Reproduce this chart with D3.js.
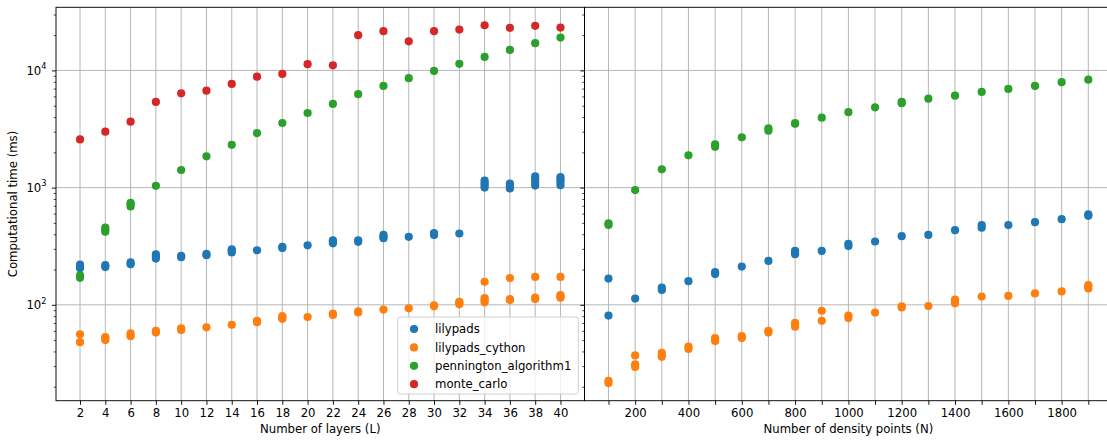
<!DOCTYPE html>
<html><head><meta charset="utf-8">
<script src="https://cdn.jsdelivr.net/npm/d3@7"></script>
<style>
html,body{margin:0;padding:0;background:#fff;}
svg{display:block;font-family:"DejaVu Sans",sans-serif;}
</style></head>
<body>
<svg id="chart" width="1107" height="440"></svg>
<script>
// ---------- data ----------
const layers = [2,4,6,8,10,12,14,16,18,20,22,24,26,28,30,32,34,36,38,40];
const lilypadsL = [[205,212,220],[210,218],[222,230],[248,258,270],[255,262],[265,272],[280,290,298],[292],[305,312],[322],[335,345,355],[345,355],[370,382,395],[380],[395,410],[406],[1000,1050,1100,1150],[985,1030,1080],[1040,1100,1180,1250],[1050,1120,1180,1230]];
const cythonL = [[48,56],[50,52,53],[54,57],[58,60],[61,63],[64.3],[67.6],[71,73],[76,78,80],[78.7],[82,84],[86,88],[91],[93.3],[97,99],[101,104,106],[105,110,114,157],[110,112,169],[112,115,173],[115,118,121,173]];
const penningtonL = [[170,178],[420,440,455],[690,720,740],[1035],[1413],[1850],[2320],[2920],[3560],[4330],[5180],[6270],[7380],[8580],[9900],[11380],[13040],[14960],[17070],[19060]];
const monteCarloL = [[2580],[3000],[3650],[5380],[6380],[6720],[7670],[8850],[9330],[11300],[11060],[20000],[21600],[17700],[21600],[22300],[24300],[23100],[24000],[23200]];

const densityPoints = [100,200,300,400,500,600,700,800,900,1000,1100,1200,1300,1400,1500,1600,1700,1800,1900];
const lilypadsN = [[81,167.5],[113],[134,140],[159],[183,190],[212],[237],[270,280,288],[288],[318,332],[347],[385],[395],[433],[455,478],[479],[507],[538],[575,590]];
const cythonN = [[21.5,22.5],[29.5,31,37],[36,37.5,39],[42,44],[49,51,52],[52,54],[58,60],[65,68,70],[73,89],[77,81],[85.8],[95,97],[97.7],[103,107,111],[117.5],[119],[125],[130],[138,143,147]];
const penningtonN = [[480,495],[952],[1432],[1885],[2230,2340],[2685],[3060,3200],[3500,3560],[3955],[4400],[4845],[5250,5400],[5740],[6090],[6550],[6950],[7375],[7930],[8340]];

const seriesNames = ["lilypads","lilypads_cython","pennington_algorithm1","monte_carlo"];
const seriesColors = ["#1f77b4","#ff7f0e","#2ca02c","#d62728"];
const layerTicks = layers;
const densityTicks = densityPoints;
const densityTickLabels = densityPoints.map(d => d % 200 === 0 ? String(d) : "");
const yMajor = [100,1000,10000];

// ---------- layout ----------
const svg = d3.select("#chart");
const FS = 11.7;
const yTop = 7.3, yBottom = 400.7;
const y = d3.scaleLog().domain([15.2, 34560]).range([yBottom, yTop]);
const xL = d3.scaleLinear().domain([0.1, 41.9]).range([56, 584.5]);
const xR = d3.scaleLinear().domain([10, 1990]).range([584.5, 1112.3]);
const gridC = "#b0b0b0";

function flatten(xs, vals){
  const out=[];
  xs.forEach((xv,i)=>vals[i].forEach(v=>out.push([xv,v])));
  return out;
}

function minorTicks(){
  const out=[];
  for(let d=10; d<=100000; d*=10){
    for(let k=2;k<=9;k++){const v=k*d; if(v>=y.domain()[0] && v<=y.domain()[1]) out.push(v);}
  }
  return out;
}

function panel(x, xticks, xlabels, xtitle, seriesData, showYLabels){
  const [x0,x1] = x.range();
  const g = svg.append("g");
  const clipId = "clip"+Math.round(x0);
  svg.append("clipPath").attr("id",clipId).append("rect")
    .attr("x",x0).attr("y",yTop).attr("width",x1-x0).attr("height",yBottom-yTop);
  const grid = g.append("g");
  grid.selectAll("line.gx").data(xticks).join("line")
    .attr("x1",d=>x(d)).attr("x2",d=>x(d)).attr("y1",yTop).attr("y2",yBottom)
    .attr("stroke",gridC).attr("stroke-width",0.93);
  grid.selectAll("line.gy").data(yMajor).join("line")
    .attr("x1",x0).attr("x2",x1).attr("y1",d=>y(d)).attr("y2",d=>y(d))
    .attr("stroke",gridC).attr("stroke-width",0.93);
  const pts = g.append("g").attr("clip-path",`url(#${clipId})`);
  seriesData.forEach(s=>{
    pts.append("g").selectAll("circle").data(s.pts).join("circle")
      .attr("cx",d=>x(d[0])).attr("cy",d=>y(d[1])).attr("r",4.1)
      .attr("fill",s.color);
  });
  g.append("rect").attr("x",x0).attr("y",yTop).attr("width",x1-x0).attr("height",yBottom-yTop)
    .attr("fill","none").attr("stroke","#000").attr("stroke-width",0.93);
  const xa = d3.axisBottom(x).tickValues(xticks).tickSize(4.1).tickPadding(4)
    .tickFormat((d,i)=>xlabels[i]);
  const xg = g.append("g").attr("transform",`translate(0,${yBottom})`).call(xa);
  xg.select(".domain").remove();
  xg.selectAll("line").attr("stroke","#000").attr("stroke-width",0.93);
  xg.selectAll("text").attr("font-size",FS).attr("fill","#000").attr("font-family","DejaVu Sans");
  g.append("text").attr("x",(x0+x1)/2).attr("y",433)
    .attr("text-anchor","middle").attr("font-size",FS).text(xtitle);
  const ya = d3.axisLeft(y).tickValues(yMajor).tickSize(4.1).tickFormat("");
  const yg = g.append("g").attr("transform",`translate(${x0},0)`).call(ya);
  yg.select(".domain").remove();
  yg.selectAll("line").attr("stroke","#000").attr("stroke-width",0.93);
  const ym = d3.axisLeft(y).tickValues(minorTicks()).tickSize(2.3).tickFormat("");
  const ymg = g.append("g").attr("transform",`translate(${x0},0)`).call(ym);
  ymg.select(".domain").remove();
  ymg.selectAll("line").attr("stroke","#000").attr("stroke-width",0.7);
  if(showYLabels){
    yMajor.forEach(v=>{
      const t = g.append("text").attr("x",x0-9.5).attr("y",y(v)+4.3)
        .attr("text-anchor","end").attr("font-size",FS);
      t.append("tspan").text("10");
      t.append("tspan").attr("font-size",FS*0.7).attr("dy",-5.5).text(String(Math.round(Math.log10(v))));
    });
  }
}

panel(xL, layerTicks, layerTicks.map(String), "Number of layers (L)", [
  {color:seriesColors[0], pts:flatten(layers, lilypadsL)},
  {color:seriesColors[1], pts:flatten(layers, cythonL)},
  {color:seriesColors[2], pts:flatten(layers, penningtonL)},
  {color:seriesColors[3], pts:flatten(layers, monteCarloL)}
], true);

panel(xR, densityTicks, densityTickLabels, "Number of density points (N)", [
  {color:seriesColors[0], pts:flatten(densityPoints, lilypadsN)},
  {color:seriesColors[1], pts:flatten(densityPoints, cythonN)},
  {color:seriesColors[2], pts:flatten(densityPoints, penningtonN)}
], false);

svg.append("text").attr("transform",`translate(17,${(yTop+yBottom)/2}) rotate(-90)`)
  .attr("text-anchor","middle").attr("font-size",FS).text("Computational time (ms)");

const lg = svg.append("g");
lg.append("rect").attr("x",397.7).attr("y",317).attr("width",180.6).attr("height",77)
  .attr("rx",2.5).attr("fill","#fff").attr("fill-opacity",0.8)
  .attr("stroke","#cccccc").attr("stroke-width",0.93);
seriesNames.forEach((n,i)=>{
  const yy = 329 + i*18.4;
  lg.append("circle").attr("cx",414).attr("cy",yy).attr("r",4.1).attr("fill",seriesColors[i]);
  lg.append("text").attr("x",435).attr("y",yy+4.2).attr("font-size",FS).text(n);
});
</script>
</body></html>
